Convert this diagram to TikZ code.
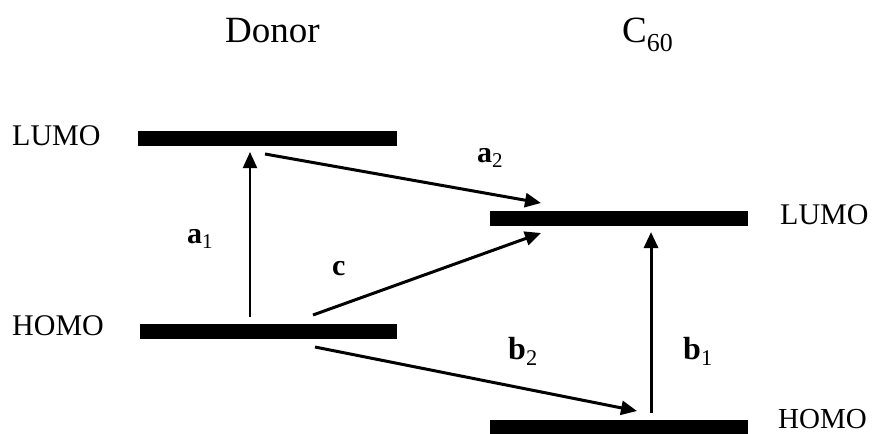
\documentclass[tikz,border=0pt]{standalone}
\usepackage{fontspec}
\setmainfont{Liberation Serif}
\usetikzlibrary{arrows.meta}

\begin{document}
\begin{tikzpicture}[x=1pt, y=-1pt,
  level/.style={line width=15pt},
  trans/.style={line width=3pt, -{Triangle[length=16pt,width=14pt]}},
  lbl/.style={inner sep=0pt, anchor=base west, font=\fontsize{30}{36}\selectfont}]
  \useasboundingbox (0,0) rectangle (874,433);
  % energy levels
  \coordinate (DL1) at (138,138.5);
  \coordinate (DL2) at (397,138.5);
  \coordinate (DH1) at (140,331);
  \coordinate (DH2) at (397,331);
  \coordinate (CL1) at (490,218.5);
  \coordinate (CL2) at (748,218.5);
  \coordinate (CH1) at (490,427);
  \coordinate (CH2) at (748,427);
  \draw[level] (DL1)--(DL2);
  \draw[level] (DH1)--(DH2);
  \draw[level] (CL1)--(CL2);
  \draw[level] (CH1)--(CH2);
  % transitions
  \coordinate (A1s) at (250,317);
  \coordinate (A1e) at (250,152);
  \coordinate (A2s) at (265,154);
  \coordinate (A2e) at (541,203);
  \coordinate (Cs)  at (313,315);
  \coordinate (Ce)  at (541,233);
  \coordinate (B2s) at (315,347);
  \coordinate (B2e) at (637,411);
  \coordinate (B1s) at (651,413);
  \coordinate (B1e) at (651,232);
  \draw[trans, line width=2pt] (A1s)--(A1e);
  \draw[trans] (A2s)--(A2e);
  \draw[trans] (Cs)--(Ce);
  \draw[trans] (B2s)--(B2e);
  \draw[trans] (B1s)--(B1e);
  % labels
  \node[lbl, font=\fontsize{37}{44}\selectfont] (donor) at (225,43) {Donor};
  \node[lbl, font=\fontsize{37}{44}\selectfont] (cs) at (622,43) {C\textsubscript{60}};
  \node[lbl] (dlumo) at (12,145) {LUMO};
  \node[lbl] (dhomo) at (12,335) {HOMO};
  \node[lbl] (clumo) at (780,224) {LUMO};
  \node[lbl, font=\fontsize{29}{35}\selectfont] (chomo) at (778,428) {HOMO};
  \node[lbl] (la1) at (187,243) {\textbf{a}\textsubscript{1}};
  \node[lbl] (la2) at (477,162) {\textbf{a}\textsubscript{2}};
  \node[lbl] (lc)  at (332,275) {\textbf{c}};
  \node[lbl, font=\fontsize{32}{38}\selectfont] (lb2) at (508,359) {\textbf{b}\textsubscript{2}};
  \node[lbl, font=\fontsize{32}{38}\selectfont] (lb1) at (683,359) {\textbf{b}\textsubscript{1}};
\end{tikzpicture}
\end{document}
